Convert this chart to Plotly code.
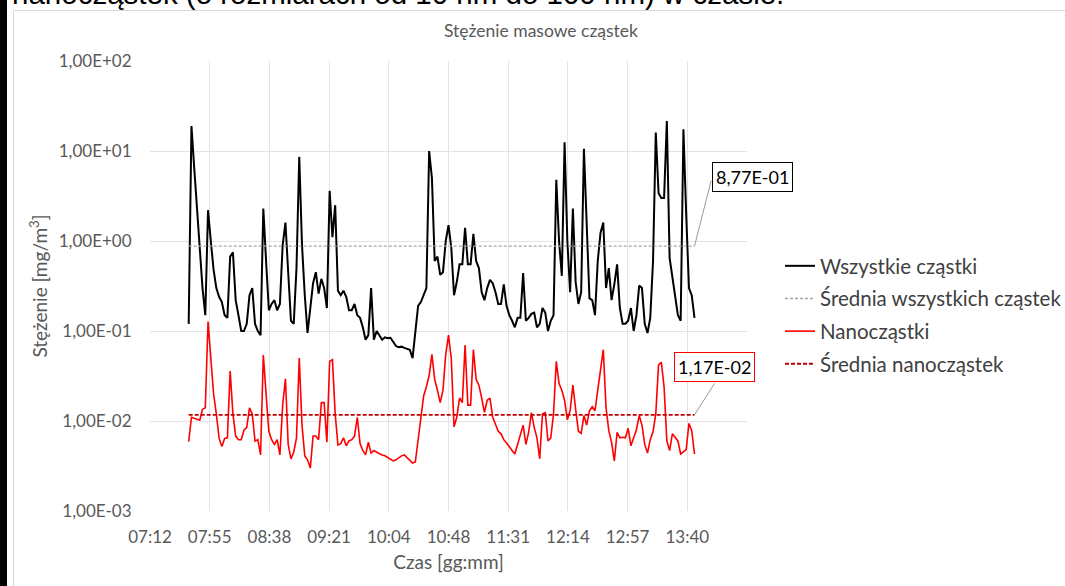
import math
import pandas as pd
import plotly.graph_objects as go

# ---------------- data ----------------
series_start = "2024-01-01 07:40"
sample_step = "2min"

wszystkie = [
    0.12, 18.9, 6.5, 2.5, 0.9, 0.3, 0.15, 2.2, 1.0, 0.48,
    0.3, 0.24, 0.21, 0.15, 0.14, 0.67, 0.75, 0.22, 0.15, 0.1,
    0.1, 0.12, 0.25, 0.3, 0.12, 0.1, 0.09, 2.3, 0.6, 0.17,
    0.2, 0.22, 0.17, 0.2, 0.9, 1.6, 0.45, 0.13, 0.12, 0.5,
    8.6, 0.9, 0.25, 0.095, 0.18, 0.34, 0.45, 0.26, 0.38, 0.3,
    0.18, 3.6, 1.1, 2.5, 0.28, 0.25, 0.28, 0.24, 0.17, 0.17,
    0.2, 0.15, 0.14, 0.11, 0.08, 0.09, 0.3, 0.08, 0.1, 0.09,
    0.08, 0.085, 0.083, 0.084, 0.075, 0.068, 0.066, 0.067, 0.065, 0.063,
    0.062, 0.05, 0.09, 0.19, 0.21, 0.25, 0.3, 10.0, 5.0, 0.6,
    0.67, 0.42, 0.45, 1.0, 1.5, 0.85, 0.25, 0.35, 0.55, 0.55,
    1.4, 0.55, 0.55, 1.2, 0.6, 0.5, 0.27, 0.22, 0.3, 0.37,
    0.34, 0.27, 0.2, 0.2, 0.33, 0.19, 0.15, 0.13, 0.11, 0.14,
    0.14, 0.44, 0.13, 0.14, 0.155, 0.16, 0.11, 0.12, 0.18, 0.16,
    0.1, 0.13, 0.15, 4.8, 1.0, 0.41, 12.5, 1.0, 0.27, 2.3,
    0.35, 0.2, 0.27, 10.6, 1.2, 0.23, 0.22, 0.15, 0.6, 1.23,
    1.6, 0.3, 0.5, 0.22, 0.33, 0.55, 0.18, 0.12, 0.12, 0.13,
    0.18, 0.1, 0.15, 0.32, 0.3, 0.12, 0.095, 0.14, 0.6, 16.0,
    3.4, 3.0, 3.0, 21.5, 0.65, 0.4, 0.27, 0.15, 0.13, 17.4,
    2.0, 0.3, 0.25, 0.14,
]

nano = [
    0.0059, 0.011, 0.0107, 0.0105, 0.0102, 0.0135, 0.014, 0.127, 0.05, 0.02,
    0.012, 0.0064, 0.0052, 0.0064, 0.0065, 0.036, 0.012, 0.0068, 0.0062, 0.0062,
    0.0079, 0.0085, 0.014, 0.012, 0.006, 0.0062, 0.0042, 0.054, 0.02, 0.0077,
    0.0062, 0.0055, 0.0062, 0.0042, 0.015, 0.0295, 0.0055, 0.0038, 0.0045, 0.0065,
    0.05, 0.009, 0.0041, 0.0037, 0.003, 0.0068, 0.0068, 0.0062, 0.016, 0.016,
    0.0058, 0.046, 0.048, 0.012, 0.0054, 0.0056, 0.0065, 0.0053, 0.006, 0.0062,
    0.0068, 0.011, 0.0056, 0.0047, 0.0042, 0.0058, 0.0044, 0.0047, 0.0045, 0.0043,
    0.0042, 0.0041, 0.0039, 0.0037, 0.0036, 0.0037, 0.0039, 0.0041, 0.0042, 0.0039,
    0.0036, 0.0034, 0.0035, 0.0065, 0.012, 0.019, 0.024, 0.032, 0.055, 0.029,
    0.022, 0.016, 0.022, 0.055, 0.09, 0.05, 0.0086, 0.011, 0.018, 0.016,
    0.07, 0.015, 0.015, 0.062, 0.029, 0.025, 0.018, 0.0125, 0.017, 0.018,
    0.011, 0.0094, 0.0077, 0.0072, 0.0062, 0.0057, 0.0051, 0.0047, 0.0043, 0.0055,
    0.0066, 0.009, 0.0055, 0.0075, 0.0124, 0.0085, 0.0065, 0.0038, 0.012, 0.0124,
    0.006, 0.0065, 0.012, 0.046, 0.026, 0.022, 0.017, 0.0103, 0.013, 0.025,
    0.0135, 0.0077, 0.0073, 0.0115, 0.009, 0.013, 0.0144, 0.013, 0.022, 0.038,
    0.062, 0.014, 0.0078, 0.0058, 0.0036, 0.0075, 0.0065, 0.0066, 0.0065, 0.0083,
    0.0053, 0.0065, 0.008, 0.0115, 0.009, 0.0055, 0.0044, 0.0062, 0.0076, 0.012,
    0.042, 0.045, 0.024, 0.006, 0.0047, 0.0072, 0.0066, 0.006, 0.0043, 0.0045,
    0.0048, 0.0094, 0.0078, 0.0043,
]

srednia_wszystkich = 0.877
srednia_nano = 0.0117

x_range = ["2024-01-01 07:12:00", "2024-01-01 14:24:00"]
x_tick_vals = [
    "2024-01-01 07:12:00", "2024-01-01 07:55:12", "2024-01-01 08:38:24",
    "2024-01-01 09:21:36", "2024-01-01 10:04:48", "2024-01-01 10:48:00",
    "2024-01-01 11:31:12", "2024-01-01 12:14:24", "2024-01-01 12:57:36",
    "2024-01-01 13:40:48",
]
x_tick_text = ["07:12", "07:55", "08:38", "09:21", "10:04", "10:48",
               "11:31", "12:14", "12:57", "13:40"]
y_tick_vals = [1e-3, 1e-2, 1e-1, 1e0, 1e1, 1e2]
y_tick_text = ["1,00E-03", "1,00E-02", "1,00E-01", "1,00E+00", "1,00E+01", "1,00E+02"]

names = ["Wszystkie cząstki", "Średnia wszystkich cząstek", "Nanocząstki", "Średnia nanocząstek"]
label_all = "8,77E-01"
label_nano = "1,17E-02"
caption = "nanocząstek (o rozmiarach od 10 nm do 100 nm) w czasie."

# ---------------- figure ----------------
W, H = 1065, 586
ML, MR, MT, MB = 150, 318, 61, 75
FONT = "Lato"
GRAY = "#595959"

times = pd.date_range(series_start, periods=len(wszystkie), freq=sample_step)
t_first, t_last = times[0], times[-1]


def px_x(px):
    return (px - ML) / (W - ML - MR)


def px_y(py):
    return (H - MB - py) / (H - MT - MB)


fig = go.Figure()
fig.add_trace(go.Scatter(x=times, y=wszystkie, mode="lines", name=names[0],
                         line=dict(color="#000000", width=2), legendgroup="a"))
fig.add_trace(go.Scatter(x=[t_first, t_last], y=[srednia_wszystkich] * 2, mode="lines",
                         name=names[1], legendgroup="b",
                         line=dict(color="#a6a6a6", width=1.3, dash="3px,2px")))
fig.add_trace(go.Scatter(x=times, y=nano, mode="lines", name=names[2],
                         line=dict(color="#ff0000", width=1.6), legendgroup="c"))
fig.add_trace(go.Scatter(x=[t_first, t_last], y=[srednia_nano] * 2, mode="lines",
                         name=names[3], legendgroup="d",
                         line=dict(color="#c00000", width=1.8, dash="4px,2px")))

# data labels with leader lines
for val, txt, border, ax, ay, xs, ys in [
    (srednia_wszystkich, label_all, "#000000", 17, -67, 58, 69),
    (srednia_nano, label_nano, "#ff0000", 21, -33, 20, 48),
]:
    fig.add_annotation(x=t_last, y=math.log10(val), xref="x", yref="y", text="",
                       showarrow=True, arrowhead=0, arrowwidth=0.8, arrowcolor="#7f7f7f",
                       ax=ax, ay=ay)
    fig.add_annotation(x=t_last, y=math.log10(val), xref="x", yref="y", text=txt,
                       showarrow=False, xshift=xs, yshift=ys,
                       font=dict(family=FONT, size=18, color="#000000"),
                       bgcolor="#ffffff", bordercolor=border, borderwidth=1, borderpad=3)

# page decorations (cut-off caption, page margin bar, chart frame)
fig.add_annotation(xref="paper", yref="paper", x=px_x(10), y=px_y(12), xanchor="left",
                   yanchor="bottom", text=caption,
                   showarrow=False, font=dict(family="Liberation Sans", size=29.5, color="#000000"))
fig.add_shape(type="rect", xref="paper", yref="paper", x0=px_x(-2), x1=px_x(7),
              y0=px_y(H + 5), y1=px_y(-5), fillcolor="#000000", line_width=0, layer="above")
fig.add_shape(type="line", xref="paper", yref="paper", x0=px_x(13.5), x1=px_x(13.5),
              y0=px_y(10.5), y1=px_y(H + 5), line=dict(color="#d9d9d9", width=1))
fig.add_shape(type="line", xref="paper", yref="paper", x0=px_x(13.5), x1=px_x(W + 5),
              y0=px_y(10.5), y1=px_y(10.5), line=dict(color="#d9d9d9", width=1))

fig.update_layout(
    width=W, height=H,
    margin=dict(l=ML, r=MR, t=MT, b=MB, autoexpand=False),
    paper_bgcolor="#ffffff", plot_bgcolor="#ffffff",
    font=dict(family=FONT, color=GRAY),
    title=dict(text="Stężenie masowe cząstek", x=541 / W, xref="container", xanchor="center",
               y=1 - 31 / H, yref="container", yanchor="middle",
               font=dict(family=FONT, size=17.5, color=GRAY)),
    legend=dict(x=px_x(780), y=px_y(246), xanchor="left", yanchor="top",
                font=dict(family=FONT, size=20.5, color="#404040"),
                tracegroupgap=3, traceorder="grouped", bgcolor="rgba(0,0,0,0)"),
    showlegend=True,
)
fig.update_xaxes(type="date", range=x_range, tickvals=x_tick_vals, ticktext=x_tick_text,
                 showgrid=True, gridcolor="#e3e3e3", gridwidth=1, zeroline=False,
                 showline=False, ticks="outside", ticklen=11, tickcolor="rgba(0,0,0,0)",
                 tickfont=dict(family=FONT, size=17, color=GRAY),
                 title=dict(text="Czas [gg:mm]", font=dict(family=FONT, size=19, color=GRAY),
                            standoff=9))
fig.update_yaxes(type="log", range=[-3, 2], tickvals=y_tick_vals, ticktext=y_tick_text,
                 showgrid=True, gridcolor="#e3e3e3", gridwidth=1, zeroline=False,
                 showline=False, ticks="outside", ticklen=14, tickcolor="rgba(0,0,0,0)",
                 tickfont=dict(family=FONT, size=17, color=GRAY),
                 title=dict(text="Stężenie [mg/m<sup>3</sup>]",
                            font=dict(family=FONT, size=19, color=GRAY), standoff=6))

fig.write_html("out.html", config={"displayModeBar": False},
               post_script="document.body.style.margin='0px';")
